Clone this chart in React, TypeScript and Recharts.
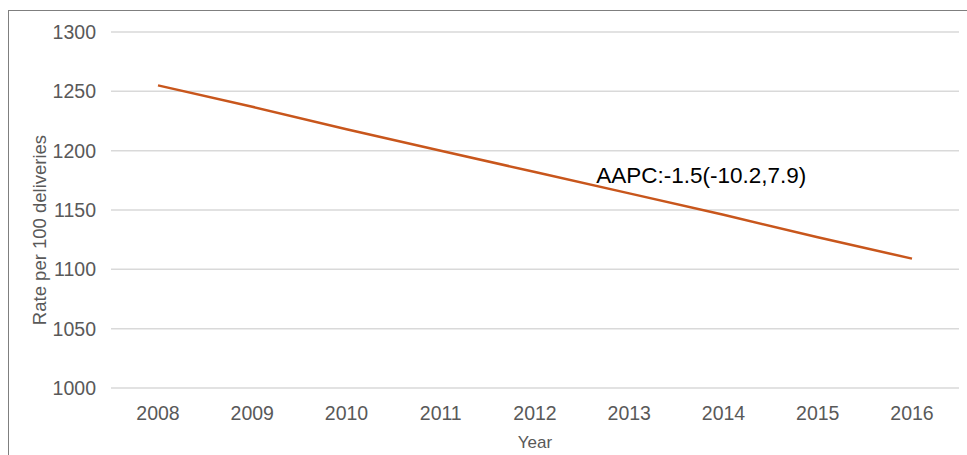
import React from "react";
import { LineChart, Line, XAxis, YAxis, CartesianGrid, ReferenceDot } from "recharts";

const years = ["2008", "2009", "2010", "2011", "2012", "2013", "2014", "2015", "2016"];
const rates = [1255, 1237, 1218, 1200, 1182, 1164, 1146, 1127, 1109];
const yTicks = [1000, 1050, 1100, 1150, 1200, 1250, 1300];
const annotationYear = "2013";
const annotationValue = 1173;
const annotationText = "AAPC:-1.5(-10.2,7.9)";

const data = years.map((y, i) => ({ year: y, rate: rates[i] }));

const FONT = '"Liberation Sans", Arial, sans-serif';
const GREY = "#595959";

const AnnotationLabel = (props: any) => {
  const vb = props.viewBox || {};
  const x = (vb.x ?? vb.cx ?? 0) - 33;
  const y = vb.y ?? vb.cy ?? 0;
  return (
    <text x={x} y={y} fontSize={22.5} fill="#000" fontFamily={FONT}>
      {annotationText}
    </text>
  );
};

const YLabel = (props: any) => {
  const vb = props.viewBox || {};
  const cy = (vb.y ?? 0) + (vb.height ?? 0) / 2 + 20;
  return (
    <text
      x={39}
      y={cy}
      transform={`rotate(-90, 39, ${cy})`}
      textAnchor="middle"
      dominantBaseline="central"
      fontSize={18.5}
      fill={GREY}
      fontFamily={FONT}
    >
      Rate per 100 deliveries
    </text>
  );
};

export default function App() {
  return (
    <div
      style={{
        position: "fixed",
        left: 0,
        top: 0,
        width: 967,
        height: 455,
        overflow: "hidden",
        background: "#fff",
      }}
    >
      <div
        style={{
          position: "absolute",
          left: 8,
          top: 10,
          width: 990,
          height: 500,
          border: "1px solid #7f7f7f",
        }}
      />
      <div style={{ position: "absolute", left: 0, top: 0 }}>
        <LineChart
          width={967}
          height={455}
          data={data}
          margin={{ top: 32, right: 8, left: 0, bottom: 0 }}
          style={{ fontFamily: FONT }}
        >
          <CartesianGrid vertical={false} stroke="#d9d9d9" strokeWidth={1.5} />
          <XAxis
            dataKey="year"
            height={67}
            axisLine={false}
            tickLine={false}
            tickSize={0}
            tickMargin={18}
            padding={{ left: 47, right: 47 }}
            tick={{ fill: GREY, fontSize: 19.5, fontFamily: FONT }}
            label={{
              value: "Year",
              position: "insideBottom",
              offset: 7,
              fill: GREY,
              fontSize: 17,
              fontFamily: FONT,
            }}
          />
          <YAxis
            width={111}
            domain={[1000, 1300]}
            ticks={yTicks}
            axisLine={false}
            tickLine={false}
            tickSize={0}
            tickMargin={15}
            interval={0}
            tick={{ fill: GREY, fontSize: 19.5, fontFamily: FONT }}
            label={<YLabel />}
          />
          <Line
            type="linear"
            dataKey="rate"
            stroke="#C8561C"
            strokeWidth={2.5}
            dot={false}
            activeDot={false}
            isAnimationActive={false}
          />
          <ReferenceDot
            x={annotationYear}
            y={annotationValue}
            r={0}
            fill="none"
            stroke="none"
            label={<AnnotationLabel />}
          />
        </LineChart>
      </div>
    </div>
  );
}
